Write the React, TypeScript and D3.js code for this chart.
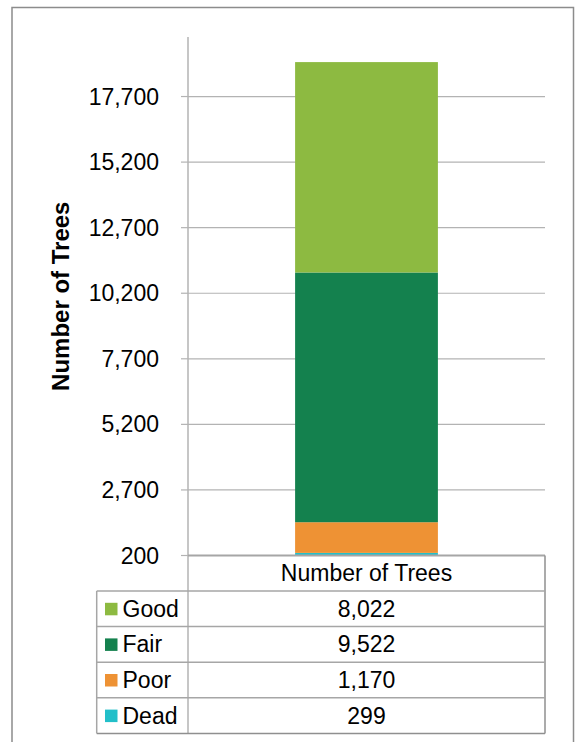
import React from "react";
import * as d3 from "d3";

const categories = ["Number of Trees"];
const seriesNames = ["Dead", "Poor", "Fair", "Good"];
const seriesValues = [299, 1170, 9522, 8022];
const seriesColors = ["#22BFC9", "#EE9234", "#14814E", "#8DBA41"];
const tickValues = [200, 2700, 5200, 7700, 10200, 12700, 15200, 17700];
const yTitle = "Number of Trees";

const W = 576;
const H = 742;
const FONT = "'Liberation Sans', Arial, Helvetica, sans-serif";

export default function App() {
  const plotLeft = 188;
  const plotRight = 545;
  const plotTop = 37;
  const plotBottom = 555.5;

  const y = d3.scaleLinear().domain([200, 19970]).range([plotBottom, plotTop]);
  const x = d3
    .scaleBand<string>()
    .domain(categories)
    .range([plotLeft, plotRight])
    .paddingInner(0.6)
    .paddingOuter(0.3);

  const row: Record<string, number | string> = { cat: categories[0] };
  seriesNames.forEach((n, i) => (row[n] = seriesValues[i]));
  const stacked = d3.stack<any>().keys(seriesNames)([row]);

  const fmt = d3.format(",");
  const gridColor = "#b3b3b3";
  const tableColor = "#a6a6a6";

  const tableLeft = 96.7;
  const headerBottom = 591;
  const rowH = 35.6;
  const tableRows = seriesNames
    .map((n, i) => ({ name: n, value: seriesValues[i], color: seriesColors[i] }))
    .reverse();
  const tableBottom = headerBottom + rowH * tableRows.length;
  const colCenter = (plotLeft + plotRight) / 2;

  return (
    <svg
      width={W}
      height={H}
      style={{ position: "absolute", left: 0, top: 0, background: "#fff" }}
      fontFamily={FONT}
    >
      <rect x={0} y={0} width={W} height={H} fill="#fff" />
      {/* outer frame */}
      <rect
        x={12}
        y={7.5}
        width={561.5}
        height={780}
        fill="none"
        stroke="#8c8c8c"
        strokeWidth={1.5}
      />

      {/* gridlines */}
      {tickValues.map((t) => (
        <line
          key={"g" + t}
          x1={plotLeft}
          x2={plotRight}
          y1={y(t)}
          y2={y(t)}
          stroke={gridColor}
          strokeWidth={1.2}
        />
      ))}

      {/* bars */}
      {stacked.map((s, i) =>
        s.map((d, j) => {
          const y0 = Math.max(d[0], 200);
          const y1 = d[1];
          return (
            <rect
              key={seriesNames[i] + j}
              x={x(categories[j])}
              width={x.bandwidth()}
              y={y(y1)}
              height={Math.max(0, y(y0) - y(y1))}
              fill={seriesColors[i]}
            />
          );
        })
      )}

      {/* ticks and labels */}
      {tickValues.map((t) => (
        <g key={"t" + t}>
          <line x1={181} x2={plotLeft} y1={y(t)} y2={y(t)} stroke={gridColor} strokeWidth={1.2} />
          <text
            x={159}
            y={y(t)}
            textAnchor="end"
            dominantBaseline="central"
            fontSize={23}
            fill="#000"
          >
            {fmt(t)}
          </text>
        </g>
      ))}

      {/* axis line (continues as table column separator) */}
      <line x1={plotLeft} x2={plotLeft} y1={plotTop} y2={tableBottom} stroke={gridColor} strokeWidth={1.5} />

      {/* y title */}
      <text
        transform={`translate(60,${(plotTop + plotBottom) / 2}) rotate(-90)`}
        textAnchor="middle"
        dominantBaseline="central"
        fontSize={24}
        fontWeight="bold"
        fill="#000"
      >
        {yTitle}
      </text>

      {/* data table */}
      <line x1={plotLeft} x2={plotRight} y1={plotBottom} y2={plotBottom} stroke={tableColor} strokeWidth={2} />
      <line x1={plotRight} x2={plotRight} y1={plotBottom} y2={tableBottom} stroke="#8f8f8f" strokeWidth={1.5} />
      <line x1={tableLeft} x2={tableLeft} y1={headerBottom} y2={tableBottom} stroke={tableColor} strokeWidth={1.5} />
      <text
        x={colCenter}
        y={(plotBottom + headerBottom) / 2}
        textAnchor="middle"
        dominantBaseline="central"
        fontSize={23}
        fill="#000"
      >
        {categories[0]}
      </text>
      {tableRows.map((r, i) => {
        const top = headerBottom + i * rowH;
        const cy = top + rowH / 2;
        return (
          <g key={"r" + r.name}>
            <line x1={tableLeft} x2={plotRight} y1={top} y2={top} stroke={tableColor} strokeWidth={1.5} />
            <rect x={105} y={cy - 6} width={12.5} height={12.5} fill={r.color} />
            <text x={122.5} y={cy} dominantBaseline="central" fontSize={23} fill="#000">
              {r.name}
            </text>
            <text
              x={colCenter}
              y={cy}
              textAnchor="middle"
              dominantBaseline="central"
              fontSize={23}
              fill="#000"
            >
              {fmt(r.value)}
            </text>
          </g>
        );
      })}
      <line x1={tableLeft} x2={plotRight} y1={tableBottom} y2={tableBottom} stroke="#8f8f8f" strokeWidth={1.5} />
    </svg>
  );
}
